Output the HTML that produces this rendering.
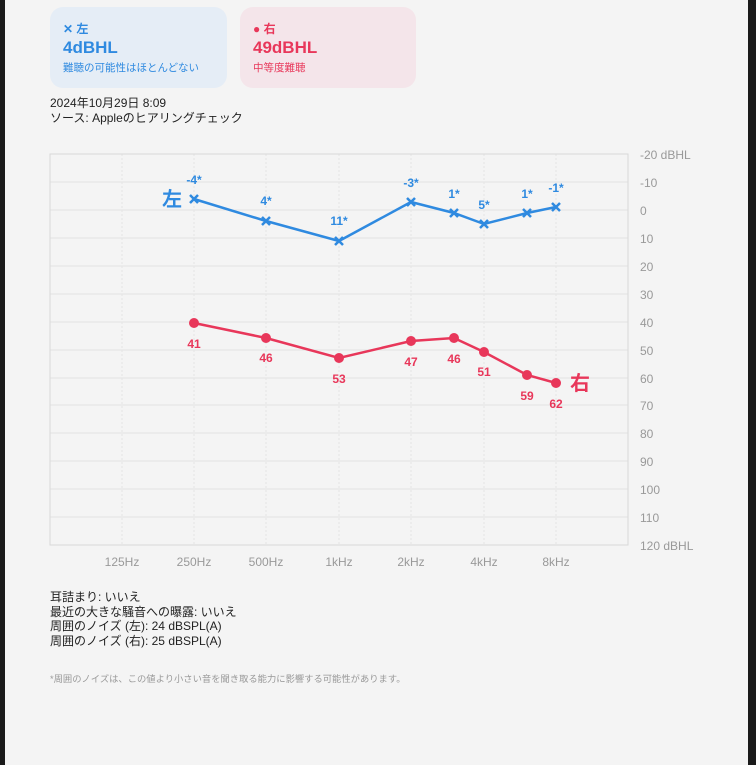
<!DOCTYPE html><html><head><meta charset="utf-8"><style>
body{margin:0;width:756px;height:765px;background:#1a1a1a;overflow:hidden;font-family:"Liberation Sans","Noto Sans CJK JP",sans-serif}
#pg{position:absolute;left:5px;top:0;width:743px;height:765px;background:#f4f4f4}
.card{position:absolute;top:7px;height:81px;border-radius:13px;box-sizing:border-box;padding:13px 0 0 13px}
.t{font-size:12px;font-weight:bold}.v{font-size:17px;font-weight:bold;margin-top:1px}.s{font-size:10.5px;margin-top:2px}
.txt{position:absolute;left:50px;font-size:12px;color:#222;line-height:14.5px;white-space:nowrap}
</style></head><body><div id="pg"></div>
<div class="card" style="left:50px;width:177px;background:#e5edf6;color:#2f8ae0"><div class="t">✕ 左</div><div class="v">4dBHL</div><div class="s">難聴の可能性はほとんどない</div></div>
<div class="card" style="left:240px;width:176px;background:#f4e5ea;color:#e8375a"><div class="t">● 右</div><div class="v">49dBHL</div><div class="s">中等度難聴</div></div>
<div class="txt" style="top:96px;line-height:15px">2024年10月29日 8:09<br>ソース: Appleのヒアリングチェック</div>
<svg style="position:absolute;left:0;top:0" width="756" height="765" font-family="Liberation Sans, Noto Sans CJK JP, sans-serif">
<g stroke="#e2e2e2" stroke-width="1">
<line x1="50" y1="182" x2="628" y2="182"/><line x1="50" y1="210" x2="628" y2="210"/><line x1="50" y1="238" x2="628" y2="238"/><line x1="50" y1="266" x2="628" y2="266"/><line x1="50" y1="294" x2="628" y2="294"/><line x1="50" y1="322" x2="628" y2="322"/><line x1="50" y1="350" x2="628" y2="350"/><line x1="50" y1="378" x2="628" y2="378"/><line x1="50" y1="405" x2="628" y2="405"/><line x1="50" y1="433" x2="628" y2="433"/><line x1="50" y1="461" x2="628" y2="461"/><line x1="50" y1="489" x2="628" y2="489"/><line x1="50" y1="517" x2="628" y2="517"/>
</g>
<g stroke="#e4e4e4" stroke-dasharray="2,2"><line x1="122" y1="154" x2="122" y2="545"/><line x1="194" y1="154" x2="194" y2="545"/><line x1="266" y1="154" x2="266" y2="545"/><line x1="339" y1="154" x2="339" y2="545"/><line x1="411" y1="154" x2="411" y2="545"/><line x1="484" y1="154" x2="484" y2="545"/><line x1="556" y1="154" x2="556" y2="545"/></g>
<rect x="50" y="154" width="578" height="391" fill="none" stroke="#d8d8d8"/>
<g fill="#999" font-size="12"><text x="640" y="159">-20 dBHL</text><text x="640" y="187">-10</text><text x="640" y="215">0</text><text x="640" y="243">10</text><text x="640" y="271">20</text><text x="640" y="299">30</text><text x="640" y="327">40</text><text x="640" y="355">50</text><text x="640" y="383">60</text><text x="640" y="410">70</text><text x="640" y="438">80</text><text x="640" y="466">90</text><text x="640" y="494">100</text><text x="640" y="522">110</text><text x="640" y="550">120 dBHL</text></g>
<g fill="#999" font-size="12" text-anchor="middle"><text x="122" y="566">125Hz</text><text x="194" y="566">250Hz</text><text x="266" y="566">500Hz</text><text x="339" y="566">1kHz</text><text x="411" y="566">2kHz</text><text x="484" y="566">4kHz</text><text x="556" y="566">8kHz</text></g>
<polyline fill="none" stroke="#2f8ae0" stroke-width="2.5" points="194,199 266,221 339,241 411,202 454,213 484,224 527,213 556,207"/>
<g stroke="#2f8ae0" stroke-width="2.5"><path d="M190,195l8,8m0-8l-8,8M262,217l8,8m0-8l-8,8M335,237l8,8m0-8l-8,8M407,198l8,8m0-8l-8,8M450,209l8,8m0-8l-8,8M480,220l8,8m0-8l-8,8M523,209l8,8m0-8l-8,8M552,203l8,8m0-8l-8,8"/></g>
<g fill="#2f8ae0" font-size="12" font-weight="bold" text-anchor="middle"><text x="194" y="184">-4*</text><text x="266" y="205">4*</text><text x="339" y="225">11*</text><text x="411" y="187">-3*</text><text x="454" y="198">1*</text><text x="484" y="209">5*</text><text x="527" y="198">1*</text><text x="556" y="192">-1*</text><text x="172" y="206" font-size="20">左</text></g>
<polyline fill="none" stroke="#e8375a" stroke-width="2.5" points="194,323 266,338 339,358 411,341 454,338 484,352 527,375 556,383"/>
<g fill="#e8375a"><circle cx="194" cy="323" r="5"/><circle cx="266" cy="338" r="5"/><circle cx="339" cy="358" r="5"/><circle cx="411" cy="341" r="5"/><circle cx="454" cy="338" r="5"/><circle cx="484" cy="352" r="5"/><circle cx="527" cy="375" r="5"/><circle cx="556" cy="383" r="5"/></g>
<g fill="#e8375a" font-size="12" font-weight="bold" text-anchor="middle"><text x="194" y="348">41</text><text x="266" y="362">46</text><text x="339" y="383">53</text><text x="411" y="366">47</text><text x="454" y="363">46</text><text x="484" y="376">51</text><text x="527" y="400">59</text><text x="556" y="408">62</text><text x="580" y="390" font-size="20">右</text></g>
</svg>
<div class="txt" style="top:590px">耳詰まり: いいえ<br>最近の大きな騒音への曝露: いいえ<br>周囲のノイズ (左): 24 dBSPL(A)<br>周囲のノイズ (右): 25 dBSPL(A)</div>
<div class="txt" style="top:672px;font-size:9.3px;color:#999">*周囲のノイズは、この値より小さい音を聞き取る能力に影響する可能性があります。</div>
</body></html>
